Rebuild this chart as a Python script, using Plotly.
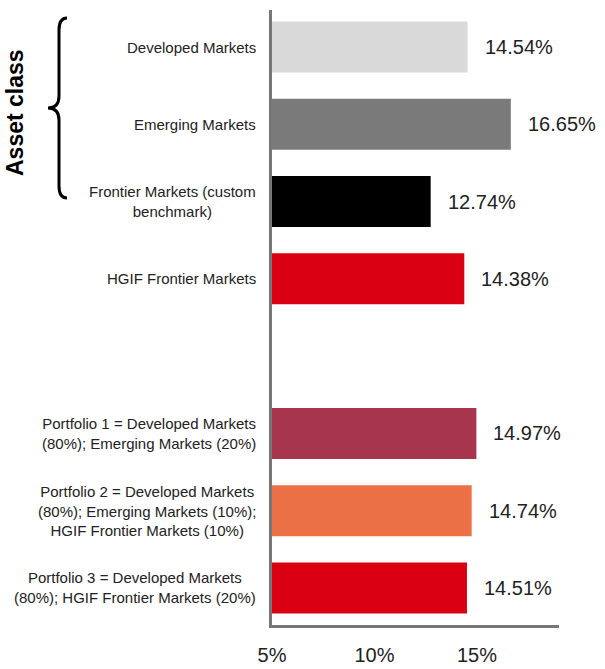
import plotly.graph_objects as go

categories = [
    "Developed Markets",
    "Emerging Markets",
    "Frontier Markets (custom<br>benchmark)",
    "HGIF Frontier Markets",
    " ",
    "Portfolio 1 = Developed Markets<br>(80%); Emerging Markets (20%)",
    "Portfolio 2 = Developed Markets<br>(80%); Emerging Markets (10%);<br>HGIF Frontier Markets (10%)",
    "Portfolio 3 = Developed Markets<br>(80%); HGIF Frontier Markets (20%)",
]
values = [14.54, 16.65, 12.74, 14.38, None, 14.97, 14.74, 14.51]
colors = ["#d9d9d9", "#7a7a7a", "#000000", "#db0011", "#ffffff", "#a8354e", "#ec7046", "#db0011"]
x_ticks = [5, 10, 15]
x_tick_labels = ["5%", "10%", "15%"]
base_value = 5

FONT = "Liberation Sans, Arial, sans-serif"

fig = go.Figure()
fig.add_trace(go.Bar(
    y=categories,
    x=[None if v is None else v - base_value for v in values],
    base=base_value,
    orientation="h",
    marker=dict(color=colors, line=dict(width=0)),
    width=0.66,
    hoverinfo="skip",
))

annotations = []
for c, v in zip(categories, values):
    if v is None:
        continue
    annotations.append(dict(
        x=v, y=c, xref="x", yref="y", text=f"{v:.2f}%",
        showarrow=False, xanchor="left", xshift=15,
        font=dict(family=FONT, size=20, color="#222222"),
    ))
    annotations.append(dict(
        x=0, y=c, xref="paper", yref="y", text=c,
        showarrow=False, xanchor="right", xshift=-14, align="center",
        font=dict(family=FONT, size=15, color="#222222"),
    ))

annotations.append(dict(
    x=0, y=1, xref="paper", yref="paper", text="<b>Asset class</b>",
    showarrow=False, textangle=-90, xanchor="center", yanchor="middle",
    xshift=-257, yshift=-103,
    font=dict(family=FONT, size=23, color="#000000"),
))

# brace drawn in pixel space converted to paper coordinates
L, R, T, B = 272, 46, 10, 44
W, H = 605, 669
pw, ph = W - L - R, H - T - B

def px(x):
    return (x - L) / pw

def py(y):
    return (H - B - y) / ph

pts = "M{},{} Q{},{} {},{} L{},{} Q{},{} {},{} Q{},{} {},{} L{},{} Q{},{} {},{}".format(
    px(67), py(18), px(59), py(18), px(59), py(30),
    px(59), py(96),
    px(59), py(108), px(48), py(108),
    px(59), py(108), px(59), py(120),
    px(59), py(186),
    px(59), py(198), px(67), py(198),
)
shapes = [dict(type="path", path=pts, xref="paper", yref="paper",
               line=dict(color="#000000", width=3))]

fig.update_layout(
    width=W, height=H,
    margin=dict(l=L, r=R, t=T, b=B),
    paper_bgcolor="white", plot_bgcolor="white",
    showlegend=False,
    bargap=0.34,
    annotations=annotations,
    shapes=shapes,
    xaxis=dict(
        range=[5, 19], tickvals=x_ticks, ticktext=x_tick_labels,
        showgrid=False, zeroline=False, showline=True, automargin=False,
        linecolor="#777777", linewidth=2.5,
        ticks="outside", ticklen=10, tickcolor="rgba(0,0,0,0)",
        tickfont=dict(family=FONT, size=20, color="#222222"),
    ),
    yaxis=dict(
        type="category", categoryorder="array", categoryarray=categories,
        range=[7.48, -0.48], showticklabels=False, automargin=False,
        showgrid=False, zeroline=False, showline=True,
        linecolor="#777777", linewidth=2.5, ticks="",
    ),
)

fig.write_html("out.html")
